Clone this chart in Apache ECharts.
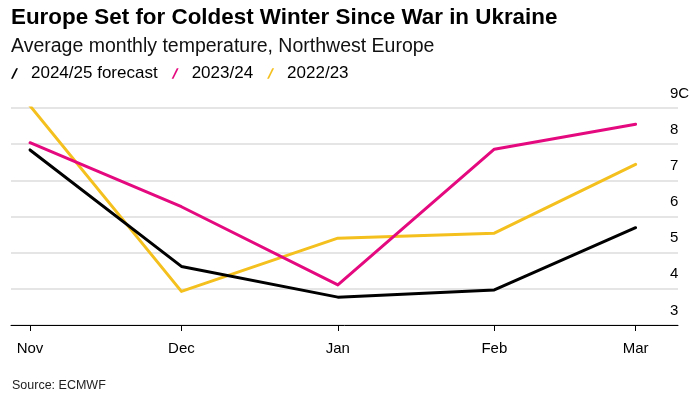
<!DOCTYPE html>
<html>
<head>
<meta charset="utf-8">
<script src="https://cdn.jsdelivr.net/npm/echarts@6/dist/echarts.min.js"></script>
<style>
html,body{margin:0;padding:0;background:#fff;}
#chart{width:696px;height:395px;}
</style>
</head>
<body>
<div id="chart"></div>
<script>
// Months and their day offsets from 1 Nov (time-proportional spacing)
const months = ['Nov', 'Dec', 'Jan', 'Feb', 'Mar'];
const monthDays = [0, 30, 61, 92, 120];
const yTicks = [3, 4, 5, 6, 7, 8, 9];

const forecast2425 = [7.84, 4.62, 3.77, 3.97, 5.69];
const season2324 = [8.04, 6.27, 4.11, 7.86, 8.55];
const season2223 = [9.06, 3.93, 5.40, 5.54, 7.44];

const seriesNames = ['2024/25 forecast', '2023/24', '2022/23'];
const seriesValues = [forecast2425, season2324, season2223];
const seriesColors = ['#000000', '#e5097f', '#f4c01e'];

const font = "'Liberation Sans', Arial, sans-serif";

const chart = echarts.init(document.getElementById('chart'), null, {renderer: 'canvas'});

const series = seriesNames.map((name, i) => ({
  name: name,
  type: 'line',
  data: seriesValues[i].map((v, j) => [monthDays[j], v]),
  symbol: 'none',
  lineStyle: {width: 3, color: seriesColors[i], cap: 'round', join: 'round'},
  itemStyle: {color: seriesColors[i]},
  z: 10 - i,
  animation: false
}));

chart.setOption({
  animation: false,
  title: [{
    text: 'Europe Set for Coldest Winter Since War in Ukraine',
    left: 11, top: 7, padding: 0,
    textStyle: {fontFamily: font, fontSize: 22.4, fontWeight: 'bold', color: '#000'}
  }, {
    text: 'Average monthly temperature, Northwest Europe',
    left: 11, top: 37, padding: 0,
    textStyle: {fontFamily: font, fontSize: 19.5, fontWeight: 'normal', color: '#111'}
  }],
  legend: {
    left: 11, top: 65, padding: 0,
    icon: 'path://M7,0 L9.5,0 L2.5,14 L0,14 Z',
    itemWidth: 7, itemHeight: 13,
    itemGap: 14,
    textStyle: {fontFamily: font, fontSize: 17, color: '#000', padding: [0, 0, 0, 8]},
    data: seriesNames
  },
  grid: {left: 11, right: 18, top: 108, bottom: 70, containLabel: false, outerBoundsMode: 'none'},
  xAxis: {
    type: 'value',
    min: -3.77, max: 128.4,
    axisLine: {show: true, lineStyle: {color: '#000', width: 1}},
    axisTick: {show: true, customValues: monthDays, length: 6, lineStyle: {color: '#000'}},
    axisLabel: {
      customValues: monthDays,
      formatter: v => months[monthDays.indexOf(v)],
      margin: 16,
      fontFamily: font, fontSize: 15, color: '#000'
    },
    splitLine: {show: false}
  },
  yAxis: {
    type: 'value',
    position: 'right',
    min: 3, max: 9, interval: 1,
    axisLine: {show: false},
    axisTick: {show: false},
    axisLabel: {
      formatter: v => (v === 9 ? '9C' : String(v)),
      margin: -8,
      align: 'left',
      verticalAlign: 'bottom',
      padding: [0, 0, 7, 0],
      fontFamily: font, fontSize: 15, color: '#000'
    },
    splitLine: {show: true, lineStyle: {color: '#dcdcdc', width: 1.5}}
  },
  graphic: [{
    type: 'text', left: 12, top: 379,
    style: {text: 'Source: ECMWF', fontFamily: font, fontSize: 12.5, fill: '#222'}
  }],
  series: series
});
</script>
</body>
</html>
